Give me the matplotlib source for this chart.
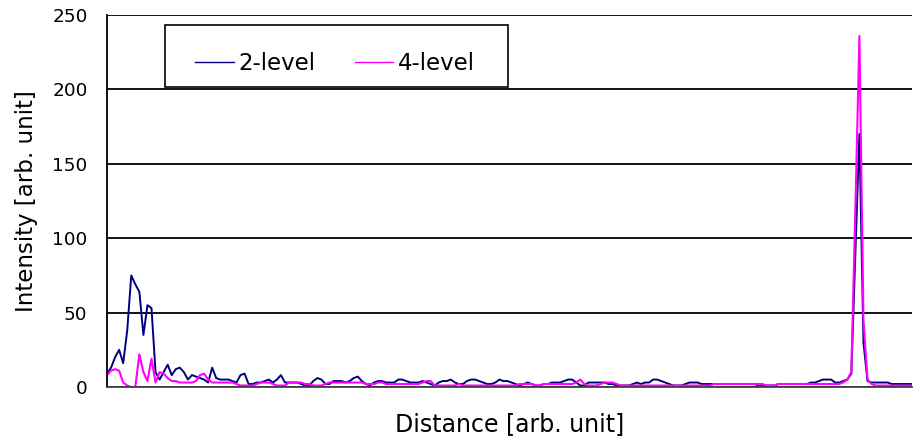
import matplotlib.pyplot as plt
from matplotlib.patches import Rectangle
import numpy as np

# Intensity profiles along the distance axis (200 samples each)
level2 = [
    9, 13, 20, 25, 16, 38, 75, 69, 64, 35, 55, 53, 10, 5, 10, 15, 8,
    12, 13, 10, 5, 8, 7, 6, 5, 3, 13, 6, 5, 5, 5, 4, 3, 8, 9, 2, 2,
    3, 3, 4, 5, 3, 5, 8, 3, 3, 3, 3, 2, 1,
    1, 4, 6, 5, 2, 2, 4, 4, 4, 3, 4, 6, 7, 4, 2, 1, 3, 4, 4, 3, 3,
    3, 5, 5, 4, 3, 3, 3, 4, 3, 2, 1, 3, 4, 4, 5, 3,
    2, 2, 4, 5, 5, 4, 3, 2, 2, 3, 5, 4, 4, 3, 2, 1, 2, 3, 2, 1, 1,
    2, 2, 3, 3, 3, 4, 5, 5, 3, 1, 1, 3, 3, 3,
    3, 3, 2, 2, 1, 1, 1, 1, 2, 3, 2, 3, 3, 5, 5, 4, 3, 2, 1, 1, 1,
    2, 3, 3, 3, 2, 2, 2, 2, 2, 2, 2, 2, 2, 2, 2,
    2, 2, 2, 1, 1, 1, 1, 1, 2, 2, 2, 2, 2, 2, 2, 2, 3, 3, 4, 5, 5,
    5, 3, 3, 4, 5, 9, 90, 170, 30, 4, 3, 3, 3, 3, 3, 2, 2, 2, 2, 2, 2,
]
level4 = [
    8, 11, 12, 11, 3, 1, 0, 0, 22, 10, 4, 19, 3, 10, 9, 6, 4,
    4, 3, 3, 3, 3, 4, 8, 9, 5, 3, 3, 3, 3, 3, 3, 2, 1, 1, 1, 1,
    2, 3, 3, 3, 2, 1, 1, 1, 3, 3, 3, 3, 2,
    2, 1, 1, 1, 2, 3, 3, 3, 3, 3, 3, 3, 3, 3, 2, 2, 2, 3, 3, 2, 2,
    2, 2, 2, 2, 2, 2, 2, 3, 4, 4, 1, 1, 1, 1, 1, 1,
    2, 1, 1, 1, 1, 1, 1, 1, 1, 1, 1, 1, 1, 1, 1, 2, 2, 2, 2, 1, 1,
    2, 2, 2, 2, 2, 2, 2, 2, 3, 5, 2, 1, 1, 1,
    2, 3, 3, 3, 2, 1, 1, 1, 1, 1, 1, 1, 1, 1, 1, 1, 1, 1, 1, 1, 1,
    1, 1, 1, 1, 1, 1, 1, 2, 2, 2, 2, 2, 2, 2, 2,
    2, 2, 2, 2, 2, 1, 1, 1, 2, 2, 2, 2, 2, 2, 2, 2, 2, 2, 2, 2, 2,
    2, 2, 2, 3, 5, 10, 120, 236, 45, 5, 2, 1, 1, 1, 1, 1, 1, 1, 1, 1, 1,
]
yticks = [0, 50, 100, 150, 200, 250]

W, H = 913, 441
fig = plt.figure(figsize=(W / 100, H / 100), dpi=100)
ax = fig.add_axes([107 / W, 1 - 387 / H, 805 / W, 372 / H])

x = np.arange(len(level2))
ax.plot(x, level2, color='#000080', lw=1.4, label='2-level')
ax.plot(x, level4, color='#FF00FF', lw=1.5, label='4-level')

ax.set_xlim(0, len(level2) - 1)
ax.set_ylim(0, 250)
ax.set_yticks(yticks)
ax.set_xticks([])
ax.yaxis.grid(True, color='black', lw=1.3)
ax.set_axisbelow(True)
ax.tick_params(axis='y', length=0, pad=14, labelsize=13.3)
for side in ('top', 'right'):
    ax.spines[side].set_visible(False)
ax.spines['left'].set_linewidth(1.3)
ax.spines['bottom'].set_linewidth(1.3)
ax.spines['bottom'].set_color('#444444')

ax.set_ylabel('Intensity [arb. unit]', fontsize=16.5, labelpad=10)
ax.set_xlabel('Distance [arb. unit]', fontsize=17, labelpad=18)

# legend box, entries are placed inside it without their own frame
box = Rectangle((165 / W, 1 - 87 / H), 343 / W, 62 / H,
                transform=fig.transFigure, facecolor='white',
                edgecolor='black', lw=1.2, zorder=5, clip_on=False)
ax.add_patch(box)
leg = ax.legend(loc='center left', bbox_to_anchor=(195 / W, 1 - 64 / H),
                bbox_transform=fig.transFigure, frameon=False, ncol=2,
                fontsize=16.5, handlelength=1.7, handletextpad=0.2,
                columnspacing=1.7, borderpad=0, borderaxespad=0)
leg.set_zorder(6)
for line in leg.get_lines():
    line.set_linewidth(1.0)

fig.savefig('out.png', dpi=100)
